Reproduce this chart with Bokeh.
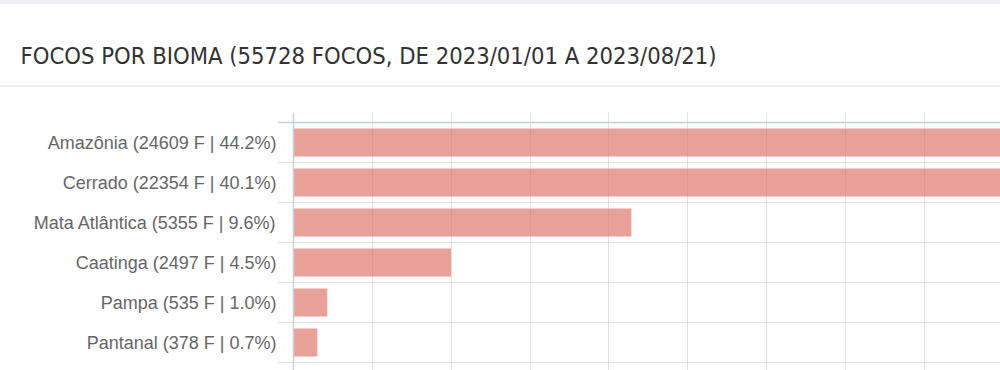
from bokeh.plotting import figure
from bokeh.models import Range1d, FixedTicker, SingleIntervalTicker, Grid, InlineStyleSheet
from bokeh.embed import file_html
from bokeh.resources import INLINE

# ---- data ----
title_text = "FOCOS POR BIOMA (55728 FOCOS, DE 2023/01/01 A 2023/08/21)"
biomas = ["Amazônia", "Cerrado", "Mata Atlântica", "Caatinga", "Pampa", "Pantanal"]
focos = [24609, 22354, 5355, 2497, 535, 378]
percent = ["44.2%", "40.1%", "9.6%", "4.5%", "1.0%", "0.7%"]
tick_labels = [f"{b} ({f} F | {pc})" for b, f, pc in zip(biomas, focos, percent)]
positions = list(range(len(biomas)))

# ---- layout constants ----
W = 1000
H = 370
FRAME_LEFT = 277
FRAME_TOP = 112
UPP = 15.85  # value units per pixel
x0 = -16 * UPP
x1 = x0 + (W - FRAME_LEFT) * UPP

card_css = InlineStyleSheet(css=""":host { background: linear-gradient(to bottom,
  #eeeef5 0px, #eeeef5 4px, #ffffff 4px, #ffffff 85px, #eeeeee 85px, #eeeeee 87px,
  #ffffff 87px, #ffffff 100%); }""")

p = figure(width=W, height=H, x_range=Range1d(x0, x1), y_range=Range1d(5.7, -0.75),
           output_backend="svg", toolbar_location=None, x_axis_location=None,
           min_border_left=FRAME_LEFT, min_border_right=0, min_border_top=FRAME_TOP,
           min_border_bottom=0, stylesheets=[card_css])
p.outline_line_color = None
p.border_fill_color = None
p.background_fill_color = None
p.grid.visible = False

p.title.text = title_text
p.title.align = "left"
p.title.vertical_align = "top"
p.title.offset = 20 - FRAME_LEFT
p.title.standoff = 81
p.title.text_font = "'DejaVu Sans Condensed', 'Roboto Condensed', 'Noto Sans'"
p.title.text_font_size = "23.6px"
p.title.text_font_style = "normal"
p.title.text_color = "#333333"

p.add_layout(Grid(dimension=0, ticker=SingleIntervalTicker(interval=1250),
                  grid_line_color="#e2e2e2", grid_line_width=1))
p.add_layout(Grid(dimension=1, ticker=FixedTicker(ticks=[i + 0.5 for i in positions]),
                  grid_line_color="#e2e2e2", grid_line_width=1))

yax = p.yaxis[0]
yax.ticker = FixedTicker(ticks=positions)
yax.major_label_overrides = {i: lbl for i, lbl in zip(positions, tick_labels)}
yax.major_tick_line_color = None
yax.major_tick_out = 0
yax.major_tick_in = 0
yax.minor_tick_line_color = None
yax.axis_line_color = None
yax.major_label_standoff = 1
yax.major_label_text_font = "Liberation Sans"
yax.major_label_text_font_size = "18px"
yax.major_label_text_color = "#666666"

p.hbar(y=positions, left=0, right=focos, height=0.7,
       fill_color="#E0776C", fill_alpha=0.7, line_color=None)

p.hspan(y=[-0.5], line_color="#c8cfdb", line_width=1.5)
p.vspan(x=[0], line_color="#c8cfdb", line_width=1.5)

open("out.html", "w").write(file_html(p, INLINE))
